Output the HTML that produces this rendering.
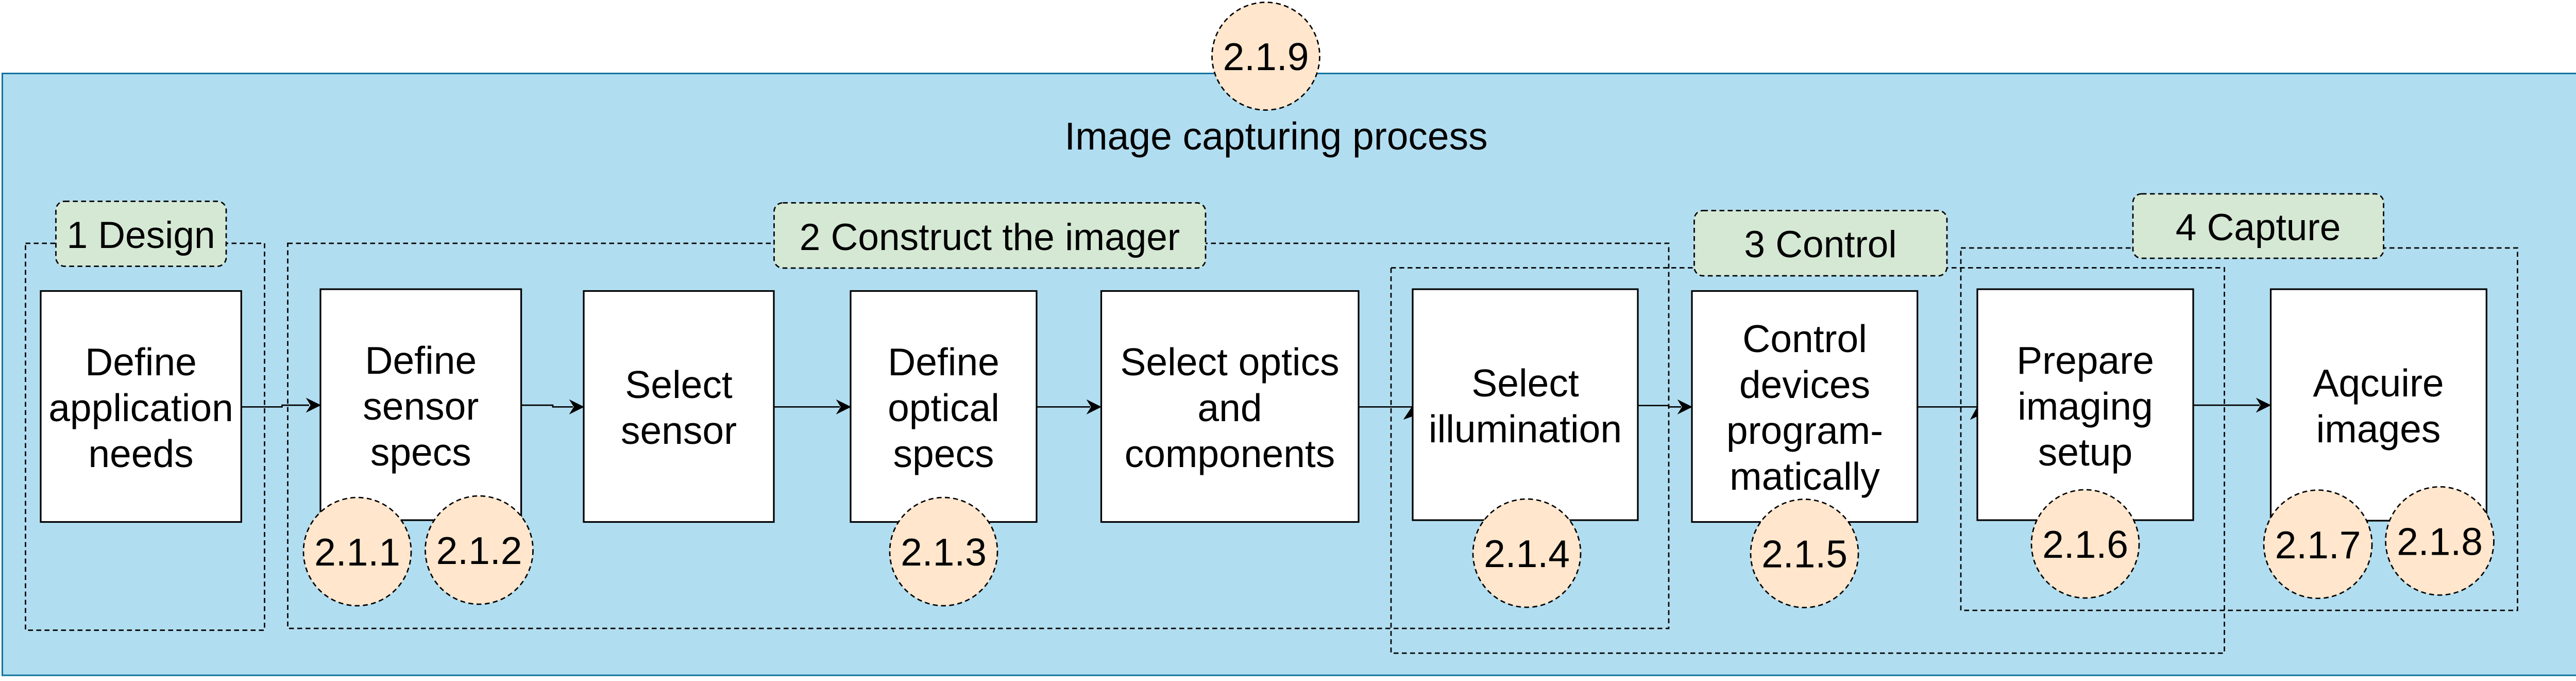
<!DOCTYPE html>
<html>
<head>
<meta charset="utf-8">
<style>
  html, body { margin:0; padding:0; background:#ffffff; }
  body { width:5071px; height:1321px; overflow:hidden; }
  svg { display:block; }
  text { font-family: "Liberation Sans", Arial, sans-serif; fill:#000; }
</style>
</head>
<body>
<svg xmlns="http://www.w3.org/2000/svg" width="5071" height="1321" viewBox="0 0 5071 1321">
  <rect x="0" y="0" width="5071" height="1321" fill="#ffffff"/>

  <!-- outer container -->
  <rect x="4.5" y="142.5" width="5061" height="1167.5" fill="#b1ddf0" stroke="#10739e" stroke-width="3"/>
  <text x="2477" y="290" font-size="75" text-anchor="middle">Image capturing process</text>

  <!-- group dashed rects -->
  <g fill="none" stroke="#000" stroke-width="2.7" stroke-dasharray="9.5,6.5">
    <rect x="49.5" y="472" width="464" height="750.5"/>
    <rect x="558.5" y="472" width="2680.5" height="747"/>
    <rect x="2700" y="519.5" width="1617.5" height="747.5"/>
    <rect x="3806" y="481" width="1080.5" height="703"/>
  </g>

  <!-- stage labels -->
  <g fill="#d5e8d4" stroke="#000" stroke-width="2.7" stroke-dasharray="9.5,6.5">
    <rect x="108.5" y="390.5" width="330.5" height="126" rx="17" ry="17"/>
    <rect x="1502.5" y="393.5" width="837.5" height="126.5" rx="17" ry="17"/>
    <rect x="3288.5" y="408.5" width="490.5" height="126.5" rx="17" ry="17"/>
    <rect x="4140" y="376" width="486.5" height="125" rx="17" ry="17"/>
  </g>
  <g font-size="73" text-anchor="middle">
    <text x="273.5" y="481">1 Design</text>
    <text x="1921" y="485">2 Construct the imager</text>
    <text x="3533.5" y="499">3 Control</text>
    <text x="4383" y="466">4 Capture</text>
  </g>

  <!-- connectors -->
  <g fill="none" stroke="#000" stroke-width="2.7">
    <polyline points="468,789.3 547.5,789.3 547.5,786 600,786"/>
    <polyline points="1011.6,786 1073,786 1073,789.3 1112,789.3"/>
    <polyline points="1502,789.3 1630,789.3"/>
    <polyline points="2012,789.3 2116,789.3"/>
    <polyline points="2637,789.3 2742,789.3"/>
    <polyline points="3179,786.7 3239,786.7 3239,789.3 3263,789.3"/>
    <polyline points="3721.7,789.3 3838,789.3"/>
    <polyline points="4257,786 4386,786"/>
  </g>
  <g fill="#000" stroke="#000" stroke-width="1">
    <polygon points="622,786 595,772.7 603.3,786 595,799.3"/>
    <polygon points="1133,789.3 1106,776 1114.3,789.3 1106,802.6"/>
    <polygon points="1651,789.3 1624,776 1632.3,789.3 1624,802.6"/>
    <polygon points="2137,789.3 2110,776 2118.3,789.3 2110,802.6"/>
    <polygon points="3284,789.3 3257,776 3265.3,789.3 3257,802.6"/>
    <polygon points="4407,786 4380,772.7 4388.3,786 4380,799.3"/>
    <polygon points="2742,787.5 2725,813 2742,807"/>
    <polygon points="3838,789.5 3825,813.3 3838,807"/>
  </g>

  <!-- process boxes -->
  <g fill="#ffffff" stroke="#000" stroke-width="3.2">
    <rect x="79" y="564.5" width="389.3" height="448"/>
    <rect x="622" y="561" width="389.6" height="448"/>
    <rect x="1133" y="564.5" width="369" height="448"/>
    <rect x="1651" y="564.5" width="361" height="448"/>
    <rect x="2137.5" y="564.5" width="499.5" height="448"/>
    <rect x="2742" y="561" width="437" height="448"/>
    <rect x="3284" y="564.5" width="437.7" height="448"/>
    <rect x="3838" y="561" width="419" height="448"/>
    <rect x="4407.5" y="561" width="418.8" height="449"/>
  </g>
  <g font-size="75" text-anchor="middle">
    <text x="273.5" y="728">Define</text>
    <text x="273.5" y="817">application</text>
    <text x="273.5" y="906">needs</text>

    <text x="816.8" y="725">Define</text>
    <text x="816.8" y="814">sensor</text>
    <text x="816.8" y="903">specs</text>

    <text x="1317.5" y="772">Select</text>
    <text x="1317.5" y="861">sensor</text>

    <text x="1831.5" y="728">Define</text>
    <text x="1831.5" y="817">optical</text>
    <text x="1831.5" y="906">specs</text>

    <text x="2387" y="728">Select optics</text>
    <text x="2387" y="817">and</text>
    <text x="2387" y="906">components</text>

    <text x="2960.5" y="769">Select</text>
    <text x="2960.5" y="858">illumination</text>

    <text x="3503" y="683">Control</text>
    <text x="3503" y="772">devices</text>
    <text x="3503" y="861">program-</text>
    <text x="3503" y="950">matically</text>

    <text x="4047.5" y="725">Prepare</text>
    <text x="4047.5" y="814">imaging</text>
    <text x="4047.5" y="903">setup</text>

    <text x="4616.5" y="769">Aqcuire</text>
    <text x="4616.5" y="858">images</text>
  </g>

  <!-- numbered circles -->
  <g fill="#ffe6cc" stroke="#000" stroke-width="2.7" stroke-dasharray="9.5,6.5">
    <ellipse cx="2457" cy="109" rx="104.5" ry="104.5"/>
    <ellipse cx="693.5" cy="1070" rx="104.5" ry="105"/>
    <ellipse cx="930" cy="1067" rx="104.5" ry="105"/>
    <ellipse cx="1831.5" cy="1070" rx="104.5" ry="105"/>
    <ellipse cx="2963.5" cy="1073" rx="104.5" ry="105"/>
    <ellipse cx="3502.5" cy="1073.5" rx="104.5" ry="105"/>
    <ellipse cx="4047.5" cy="1055" rx="104.5" ry="105"/>
    <ellipse cx="4499" cy="1055.7" rx="105" ry="105"/>
    <ellipse cx="4735.5" cy="1049.3" rx="105" ry="105"/>
  </g>
  <g font-size="75" text-anchor="middle">
    <text x="2457" y="136">2.1.9</text>
    <text x="693.5" y="1097">2.1.1</text>
    <text x="930" y="1094">2.1.2</text>
    <text x="1831.5" y="1097">2.1.3</text>
    <text x="2963.5" y="1100">2.1.4</text>
    <text x="3502.5" y="1100.5">2.1.5</text>
    <text x="4047.5" y="1082">2.1.6</text>
    <text x="4499" y="1083">2.1.7</text>
    <text x="4735.5" y="1076.5">2.1.8</text>
  </g>
</svg>
</body>
</html>
